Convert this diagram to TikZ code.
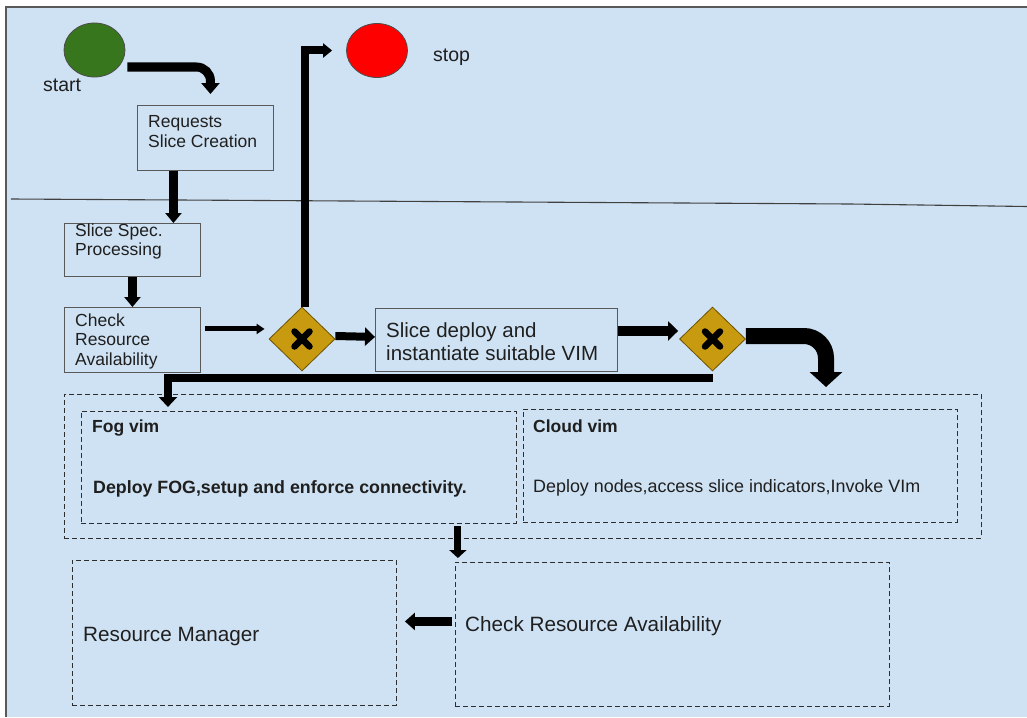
\documentclass[tikz,border=0pt]{standalone}
\usepackage{fontspec}
\setmainfont{Liberation Sans}
\usetikzlibrary{arrows.meta,shapes.geometric,calc}
\definecolor{bg}{HTML}{CFE2F3}
\definecolor{frame}{HTML}{595959}
\definecolor{dashc}{HTML}{2E2E2E}
\definecolor{gold}{RGB}{200,154,16}
\definecolor{golddark}{HTML}{6B5200}
\definecolor{startgreen}{HTML}{38761D}
\definecolor{txtc}{HTML}{1F1F1F}
\newcommand\myfs[2]{\fontsize{#1}{#2}\selectfont}
\begin{document}
\begin{tikzpicture}[x=1pt,y=-1pt,
  box/.style={draw=frame,line width=0.9pt,fill=bg,rectangle,inner sep=0pt,anchor=north west},
  dbox/.style={draw=dashc,line width=0.9pt,dash pattern=on 5pt off 3pt,rectangle,inner sep=0pt,anchor=north west},
  txt/.style={inner sep=0pt,text=txtc,align=left},
  gate/.style={diamond,aspect=1,draw=golddark,line width=0.8pt,fill=gold,minimum width=66pt,minimum height=64pt,inner sep=0pt},
  xmark/.style={line width=6.5pt,line cap=round,black},
  circ/.style={ellipse,draw=black!70,line width=0.8pt,inner sep=0pt,minimum width=61pt,minimum height=54pt},
  arr/.style={draw=black,line width=#1},
]
\useasboundingbox (0,0) rectangle (1027,717);
\fill[white] (0,0) rectangle (1027,717);
\fill[bg] (6,7) rectangle (1027,717);
\draw[frame,line width=1.3pt] (6,717) -- (6,7) -- (1027,7);
% divider
\draw[black!75,line width=1.1pt] (11,199) -- (850,204) -- (1027,206.5);

% start / stop
\node[circ,fill=startgreen] (start) at (94.5,50) {};
\node[circ,fill=red] (stop) at (377,50.5) {};
\node[txt,anchor=base west,font=\myfs{19.5}{22}] (starttxt) at (43,91) {start};
\node[txt,anchor=base west,font=\myfs{19.5}{22}] (stoptxt) at (433,61) {stop};

% process boxes
\node[box,minimum width=136pt,minimum height=65pt] (req) at (137,105) {};
\node[txt,anchor=north west,font=\myfs{17.5}{19.5}] (reqtxt) at (148,115.5) {Requests\\Slice Creation};
\node[box,minimum width=136pt,minimum height=53pt] (spec) at (64,223) {};
\node[txt,anchor=north west,font=\myfs{17.5}{19}] (spectxt) at (75,223.5) {Slice Spec.\\Processing};
\node[box,minimum width=136pt,minimum height=65pt] (check) at (64,307) {};
\node[txt,anchor=north west,font=\myfs{17.5}{19.5}] (checktxt) at (75,313.5) {Check\\Resource\\Availability};
\node[box,minimum width=242pt,minimum height=63pt] (deploy) at (375,308) {};
\node[txt,anchor=north west,font=\myfs{20.5}{23}] (deploytxt) at (386,322.5) {Slice deploy and\\instantiate suitable VIM};

% gateways
\node[gate] (d1) at (302,339) {};
\node[gate] (d2) at (712.5,339) {};
\draw[xmark] ([shift={(-7.5pt,-7.5pt)}]d1.center) -- ([shift={(7.5pt,7.5pt)}]d1.center);
\draw[xmark] ([shift={(-7.5pt,7.5pt)}]d1.center) -- ([shift={(7.5pt,-7.5pt)}]d1.center);
\draw[xmark] ([shift={(-7.5pt,-7.5pt)}]d2.center) -- ([shift={(7.5pt,7.5pt)}]d2.center);
\draw[xmark] ([shift={(-7.5pt,7.5pt)}]d2.center) -- ([shift={(7.5pt,-7.5pt)}]d2.center);

% dashed containers
\node[dbox,minimum width=917pt,minimum height=144pt] (outer) at (64,394) {};
\node[dbox,minimum width=435pt,minimum height=112pt] (fog) at (81,411) {};
\node[dbox,minimum width=434pt,minimum height=113pt] (cloud) at (523,409) {};
\node[dbox,minimum width=324pt,minimum height=145pt] (rm) at (72,560) {};
\node[dbox,minimum width=434pt,minimum height=144pt] (check2) at (455,562) {};

\node[txt,anchor=base west,font=\myfs{17.5}{20}\bfseries] (fogt) at (92,432) {Fog vim};
\node[txt,anchor=base west,font=\myfs{17.8}{20}\bfseries] (fogd) at (93,493) {Deploy FOG,setup and enforce connectivity.};
\node[txt,anchor=base west,font=\myfs{17.5}{20}\bfseries] (cloudt) at (533,432) {Cloud vim};
\node[txt,anchor=base west,font=\myfs{17.9}{20}] (cloudd) at (533,492) {Deploy nodes,access slice indicators,Invoke VIm};
\node[txt,anchor=base west,font=\myfs{20.7}{23}] (check2t) at (465,631) {Check Resource Availability};
\node[txt,anchor=base west,font=\myfs{20.7}{23}] (rmt) at (83,641) {Resource Manager};

% connectors
\draw[arr=9pt,rounded corners=14pt,-{Triangle[width=18pt,length=11pt]}]
  ([shift={(2pt,-17pt)}]start.east) -| ([shift={(5pt,11pt)}]req.north);
\draw[arr=9pt,-{Triangle[width=16pt,length=10pt]}]
  ([xshift=-32pt]req.south) coordinate (a1) -- (a1 |- spec.north);
\draw[arr=9pt,-{Triangle[width=16pt,length=10pt]}]
  (spec.south) -- (check.north);
\draw[arr=5pt,shorten >=4pt,-{Triangle[width=10pt,length=8pt]}]
  ([shift={(4pt,11pt)}]check.east) coordinate (a2) -- (a2 -| d1.west);
\draw[arr=8pt,-{Triangle[width=14pt,length=9pt]}]
  ([xshift=3pt]d1.north) |- ([xshift=-14pt]stop.west);
\draw[arr=8pt,-{Triangle[width=18pt,length=10pt]}]
  ([yshift=3pt]d1.east) -- ([yshift=3pt]deploy.west);
\draw[arr=10pt,shorten >=1pt,-{Triangle[width=19pt,length=10pt]}]
  ([yshift=9pt]deploy.east) coordinate (a3) -- (a3 -| d2.west);
\coordinate (bigend) at (826,387);
\draw[arr=16pt,rounded corners=22pt,-{Triangle[width=32pt,length=15pt]}]
  ([yshift=3pt]d2.east) -| (bigend);
\draw[arr=8pt,-{Triangle[width=18pt,length=10pt]}]
  ([yshift=-7pt]d2.south) -| ([shift={(-131pt,4pt)}]fog.north);
\draw[arr=7pt,shorten >=4pt,-{Triangle[width=17pt,length=8pt]}]
  ([shift={(-59pt,-2pt)}]fog.south east) coordinate (a4) -- (a4 |- check2.north);
\draw[arr=9pt,shorten >=8pt,-{Triangle[width=17pt,length=10pt]}]
  ([shift={(-3pt,13pt)}]check2.west) coordinate (a5) -- (a5 -| rm.east);
\end{tikzpicture}
\end{document}
